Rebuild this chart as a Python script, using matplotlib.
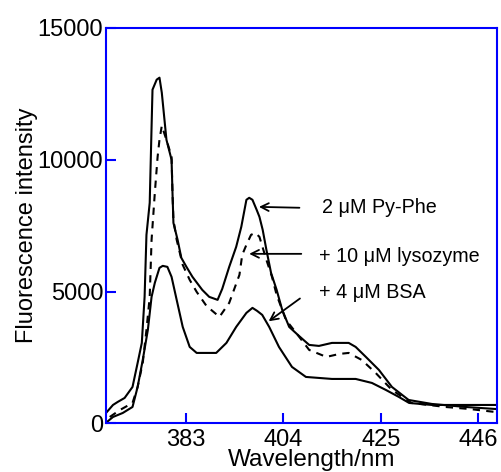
import matplotlib
matplotlib.use("Agg")
import matplotlib.pyplot as plt

plt.rcParams['font.family'] = ['Liberation Sans', 'DejaVu Sans']

# 2 uM Py-Phe (solid, top)
pyphe_wl = [365.9, 367.4, 368.4, 369.9, 371.6, 372.7, 373.6, 374.2, 374.6, 375.3,
            375.7, 375.9, 376.8, 377.4, 377.9, 378.9, 380.0, 380.2, 380.4, 381.3,
            382.1, 383.2, 384.5, 386.6, 388.1, 389.9, 390.9, 392.4, 393.9, 395.0,
            396.1, 396.7, 397.4, 398.3, 398.9, 399.6, 400.4, 401.4, 402.6, 403.8,
            405.3, 407.4, 409.6, 411.7, 414.5, 418.1, 419.6, 421.8, 424.6, 427.4,
            431.0, 436.0, 443.2, 449.6]
pyphe_int = [395, 699, 812, 965, 1382, 2293, 3053, 4800, 7153, 8369,
             11254, 12659, 13040, 13115, 12545, 10760, 10000, 8747, 7608, 6963,
             6280, 5938, 5558, 5065, 4800, 4686, 5104, 5938, 6698, 7457,
             8482, 8558, 8482, 8103, 7837, 7343, 6584, 5710, 5065, 4306,
             3660, 3319, 2977, 2939, 3053, 3053, 2901, 2521, 2028, 1382,
             888, 737, 623, 547]

# + 10 uM lysozyme (dashed)
lyso_wl = [366.7, 368.9, 371.6, 372.7, 373.8, 374.6, 375.3, 375.7, 376.4, 377.0,
           377.4, 377.9, 379.1, 380.0, 380.2, 380.4, 381.1, 382.4, 383.9, 385.4,
           387.5, 390.3, 392.4, 394.6, 395.2, 396.1, 397.1, 398.0, 398.9, 400.4,
           401.6, 402.6, 404.6, 406.8, 409.6, 413.3, 416.1, 418.1, 420.9, 423.9,
           427.4, 431.6, 438.9, 444.0, 449.6]
lyso_int = [243, 509, 775, 1382, 2293, 3547, 4800, 6964, 8747, 10114,
            10760, 11291, 10646, 10114, 8747, 7723, 6964, 6014, 5445, 4989,
            4458, 4040, 4572, 5635, 6394, 6774, 7153, 7229, 7077, 6204,
            5559, 4876, 3926, 3433, 2787, 2521, 2635, 2673, 2407, 1914,
            1268, 775, 623, 547, 433]

# + 4 uM BSA (solid, bottom)
bsa_wl = [366.1, 367.4, 369.5, 371.6, 372.7, 373.8, 374.9, 375.7, 376.4, 377.4,
          378.1, 379.1, 380.0, 381.1, 382.4, 383.9, 385.4, 389.6, 391.8, 393.9,
          396.1, 397.4, 398.4, 399.5, 401.0, 403.1, 405.9, 408.9, 414.5, 419.6,
          423.1, 426.1, 428.9, 431.1, 436.0, 449.6]
bsa_int = [53, 243, 395, 623, 1382, 2407, 3547, 4800, 5332, 5900,
           5976, 5938, 5559, 4686, 3660, 2901, 2673, 2673, 3053, 3660,
           4192, 4382, 4268, 4116, 3660, 2901, 2142, 1762, 1686, 1686,
           1534, 1268, 1002, 775, 699, 699]

labels = ['2 \u03bcM Py-Phe', '+ 10 \u03bcM lysozyme', '+ 4 \u03bcM BSA']
label_xy = [(412.4, 8178), (411.7, 6318), (411.7, 4951)]
arrow_tail = [(408.1, 8178), (408.5, 6432), (408.1, 4800)]
arrow_head = [(398.2, 8216), (396.1, 6432), (400.4, 3812)]

xticks = [383, 404, 425, 446]
yticks = [0, 5000, 10000, 15000]

fig = plt.figure(figsize=(5.01, 4.72), dpi=100)
ax = fig.add_axes([0.2116, 0.103, 0.992 - 0.2116, 0.9407 - 0.103])

ax.plot(pyphe_wl, pyphe_int, color='black', linewidth=1.5)
ax.plot(lyso_wl, lyso_int, color='black', linewidth=1.5, linestyle=(0, (3.5, 3)))
ax.plot(bsa_wl, bsa_int, color='black', linewidth=1.5)

for lab, xy, tail, head in zip(labels, label_xy, arrow_tail, arrow_head):
    ax.text(xy[0], xy[1], lab, fontsize=14.2, va='center', ha='left')
    ax.annotate('', xy=head, xytext=tail,
                arrowprops=dict(arrowstyle='->', color='black', lw=1.3,
                                mutation_scale=14))

ax.set_xlim(365.9, 450.0)
ax.set_ylim(0, 15000)
ax.set_xticks(xticks)
ax.set_yticks(yticks)

for sp in ax.spines.values():
    sp.set_color('blue')
    sp.set_linewidth(1.5)
ax.tick_params(direction='in', length=7, width=1.5, color='blue', labelsize=17)
ax.tick_params(axis='x', pad=4)
ax.tick_params(axis='y', pad=2)

ax.set_xlabel('Wavelength/nm', fontsize=17.5)
ax.xaxis.set_label_coords(0.525, -0.065, transform=ax.transAxes)
ax.xaxis.label.set_va('top')
ax.set_ylabel('Fluorescence intensity', fontsize=17, labelpad=0)

fig.savefig('out.png', dpi=100)
